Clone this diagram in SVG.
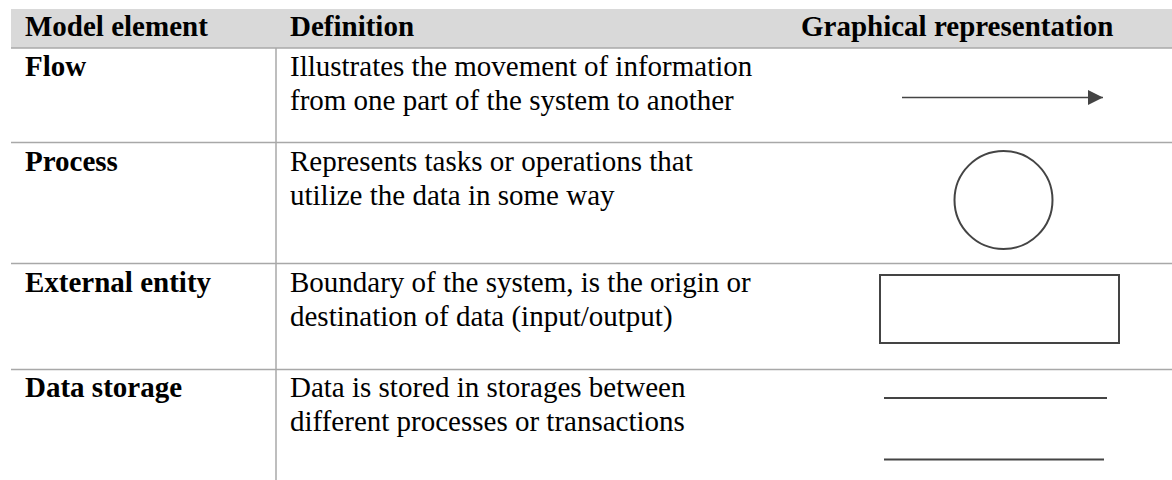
<svg xmlns="http://www.w3.org/2000/svg" width="1172" height="480" viewBox="0 0 1172 480">
<defs>
<style>
.t{font-family:"Liberation Serif","Times New Roman",serif;font-size:29px;fill:#000}
.b{font-weight:bold}
.grid{stroke:#a8a8a8;stroke-width:1.5;fill:none}
.shape{stroke:#444;stroke-width:2;fill:none}
</style>
<marker id="ah" markerWidth="16" markerHeight="16" refX="15" refY="7.5" orient="auto" markerUnits="userSpaceOnUse">
<path d="M0,0 L15,7.5 L0,15 Z" fill="#444"/>
</marker>
</defs>
<rect x="0" y="0" width="1172" height="480" fill="#fff"/>
<g id="header">
<rect x="11" y="9" width="1161" height="39" fill="#d9d9d9"/>
<text class="t b" x="25" y="36">Model element</text>
<text class="t b" x="290" y="36">Definition</text>
<text class="t b" x="801" y="36">Graphical representation</text>
</g>
<g id="grid">
<line class="grid" x1="11" y1="48" x2="1172" y2="48"/>
<line class="grid" x1="11" y1="142.5" x2="1172" y2="142.5"/>
<line class="grid" x1="11" y1="263.5" x2="1172" y2="263.5"/>
<line class="grid" x1="11" y1="369.5" x2="1172" y2="369.5"/>
<line class="grid" x1="276" y1="48" x2="276" y2="480"/>
</g>
<g id="row-flow">
<text class="t b" x="25" y="76">Flow</text>
<text class="t" x="290" y="76">Illustrates the movement of information</text>
<text class="t" x="290" y="110">from one part of the system to another</text>
</g>
<g id="row-process">
<text class="t b" x="25" y="171">Process</text>
<text class="t" x="290" y="171">Represents tasks or operations that</text>
<text class="t" x="290" y="205">utilize the data in some way</text>
<circle class="shape" cx="1003.5" cy="200" r="49"/>
</g>
<g id="row-external">
<text class="t b" x="25" y="292">External entity</text>
<text class="t" x="290" y="292">Boundary of the system, is the origin or</text>
<text class="t" x="290" y="326">destination of data (input/output)</text>
<rect class="shape" x="880" y="275" width="239" height="68"/>
</g>
<g id="row-storage">
<text class="t b" x="25" y="397">Data storage</text>
<text class="t" x="290" y="397">Data is stored in storages between</text>
<text class="t" x="290" y="431">different processes or transactions</text>
<line class="shape" x1="884" y1="398" x2="1107" y2="398"/>
<line class="shape" x1="884" y1="459.5" x2="1104" y2="459.5"/>
</g>
<g id="connectors">
<line x1="902" y1="97.5" x2="1103" y2="97.5" stroke="#444" stroke-width="1.5" marker-end="url(#ah)"/>
</g>
</svg>
